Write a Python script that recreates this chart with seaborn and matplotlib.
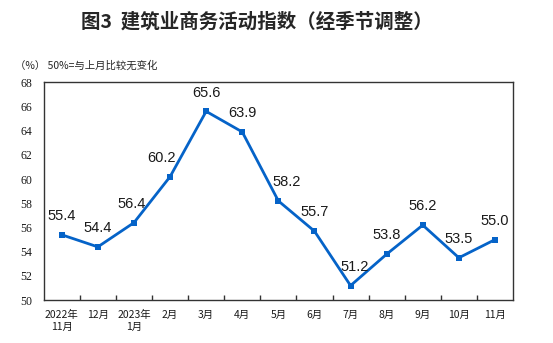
import matplotlib
matplotlib.use("Agg")
import matplotlib.pyplot as plt
import seaborn as sns
import pandas as pd

months = ["2022年\n11月", "12月", "2023年\n1月", "2月", "3月", "4月", "5月",
          "6月", "7月", "8月", "9月", "10月", "11月"]
index_values = [55.4, 54.4, 56.4, 60.2, 65.6, 63.9, 58.2, 55.7, 51.2, 53.8, 56.2, 53.5, 55.0]
y_ticks = [50, 52, 54, 56, 58, 60, 62, 64, 66, 68]

sns.set_theme(style="white")
plt.rcParams["font.family"] = ["Noto Sans CJK SC", "DejaVu Sans"]

df = pd.DataFrame({"pos": range(len(months)), "value": index_values})

fig = plt.figure(figsize=(5.53, 3.43), dpi=100)
ax = fig.add_axes([0.079, 0.125, 0.8487, 0.635])
color = "#0563C8"
sns.lineplot(data=df, x="pos", y="value", ax=ax, color=color, linewidth=2,
             marker="s", markersize=5, markeredgewidth=0)

# horizontal nudges (points) for labels that would sit on the line
nudge = {2: -1.5, 3: -6, 6: 6, 8: 3}
for i, (x, v) in enumerate(zip(df["pos"], df["value"])):
    ax.annotate(f"{v:.1f}", (x, v), xytext=(nudge.get(i, 0), 13.5), textcoords="offset points",
                ha="center", va="center", fontsize=10.5, family="Liberation Sans",
                color="#1a1a1a")

ax.set_xlim(-0.5, len(months) - 0.5)
ax.set_ylim(50, 68)
ax.set_yticks(y_ticks)
ax.set_yticklabels([str(t) for t in y_ticks], fontsize=8.5, family="Liberation Serif",
                   color="#1a1a1a")
ax.set_xticks(range(len(months)))
ax.set_xticklabels(months, fontsize=7.5, color="#1a1a1a")
ax.set_xticks([i + 0.5 for i in range(len(months) - 1)], minor=True)
ax.tick_params(axis="x", which="major", length=0, pad=7)
ax.tick_params(axis="x", which="minor", direction="in", length=3.5, width=1, color="#333333", bottom=True)
ax.tick_params(axis="y", length=0, pad=8)
ax.set_xlabel("")
ax.set_ylabel("")
for s in ax.spines.values():
    s.set_color("#333333")
    s.set_linewidth(1)

fig.text(0.465, 0.935, "图3  建筑业商务活动指数（经季节调整）", ha="center", va="center",
         fontsize=14, fontweight="bold")
fig.text(0.027, 0.81, "（%） 50%=与上月比较无变化", ha="left", va="center", fontsize=7.5)

fig.savefig("out.png", dpi=100)
